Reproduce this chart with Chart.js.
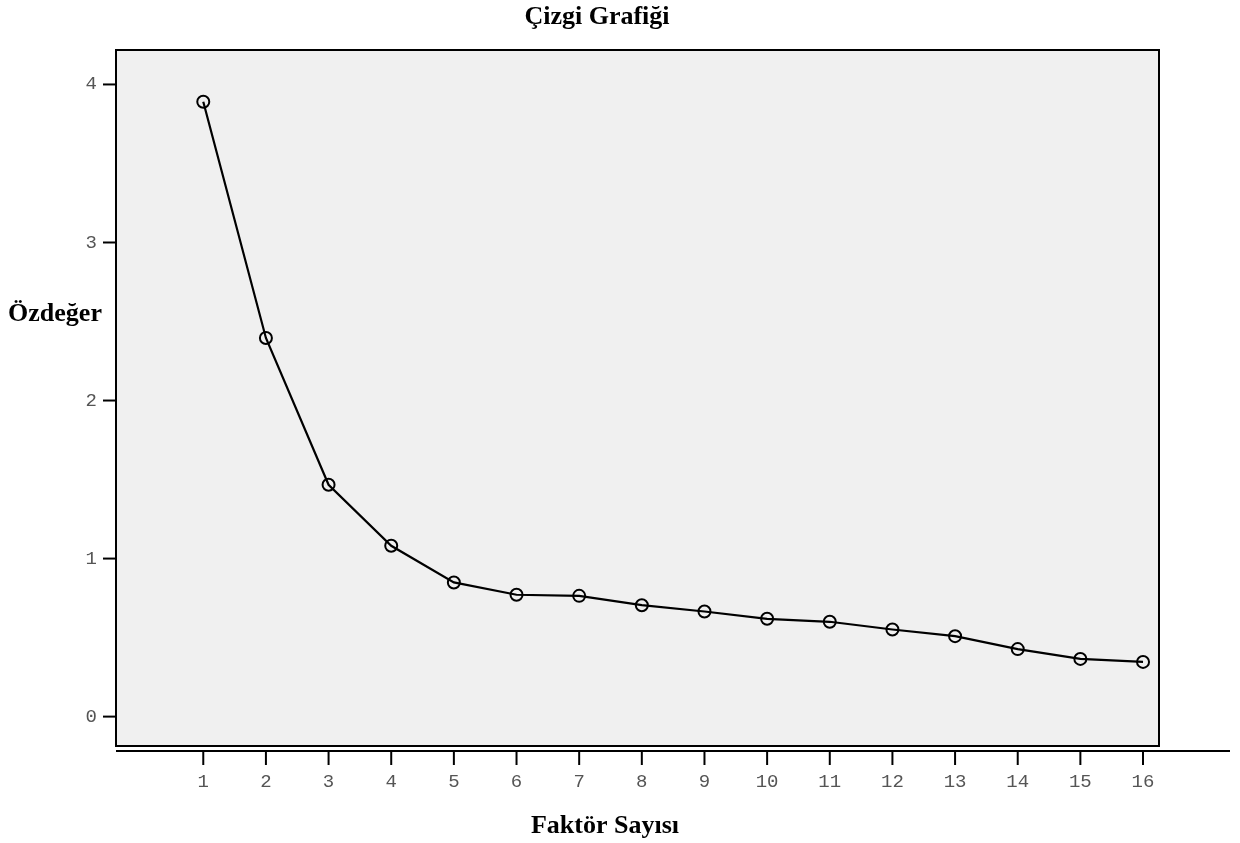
<!DOCTYPE html>
<html>
<head>
<meta charset="utf-8">
<script src="https://cdn.jsdelivr.net/npm/chart.js@4"></script>
<style>
  html, body { margin: 0; padding: 0; background: #fff; }
  #wrap { width: 1240px; height: 843px; }
</style>
</head>
<body>
<div id="wrap"><canvas id="scree" width="1240" height="843"></canvas></div>
<script>
// data
var factors = [1, 2, 3, 4, 5, 6, 7, 8, 9, 10, 11, 12, 13, 14, 15, 16];
var eigenvalues = [3.891, 2.396, 1.467, 1.081, 0.849, 0.771, 0.764, 0.705, 0.665, 0.619, 0.600, 0.551, 0.509, 0.427, 0.365, 0.346];
var yTicks = [0, 1, 2, 3, 4];
var chartTitle = 'Çizgi Grafiği';
var xTitle = 'Faktör Sayısı';
var yTitle = 'Özdeğer';

var points = factors.map(function(f, i) { return { x: f, y: eigenvalues[i] }; });

// gray box, border, tick marks and titles
var frame = {
    id: 'frame',
    beforeDraw: function(chart) {
        var a = chart.chartArea, c = chart.ctx;
        c.save();
        c.fillStyle = '#f0f0f0';
        c.fillRect(a.left, a.top, a.right - a.left, a.bottom - a.top);
        c.restore();
    },
    afterDraw: function(chart) {
        var a = chart.chartArea, c = chart.ctx;
        var xs = chart.scales.x, ys = chart.scales.y;
        c.save();
        c.strokeStyle = '#000';
        c.lineWidth = 2;
        c.strokeRect(a.left, a.top, a.right - a.left, a.bottom - a.top);

        // long base line under the box
        c.beginPath();
        c.moveTo(a.left, a.bottom + 5);
        c.lineTo(1230, a.bottom + 5);
        c.stroke();

        xs.ticks.forEach(function(t) {
            var px = xs.getPixelForValue(t.value);
            c.beginPath();
            c.moveTo(px, a.bottom + 5);
            c.lineTo(px, a.bottom + 19);
            c.stroke();
        });
        ys.ticks.forEach(function(t) {
            var py = ys.getPixelForValue(t.value);
            c.beginPath();
            c.moveTo(a.left, py);
            c.lineTo(a.left - 13, py);
            c.stroke();
        });

        c.fillStyle = '#000';
        c.textAlign = 'center';
        c.textBaseline = 'middle';
        c.font = 'bold 26px "Liberation Serif"';
        c.fillText(chartTitle, 597, 17);
        c.fillText(xTitle, 605, 826);
        c.fillText(yTitle, 55, 314);
        c.restore();
    }
};

new Chart(document.getElementById('scree').getContext('2d'), {
    type: 'line',
    data: {
        datasets: [{
            label: yTitle,
            data: points,
            borderColor: '#000',
            borderWidth: 2.2,
            backgroundColor: 'transparent',
            pointRadius: 6,
            pointBorderWidth: 2,
            pointBorderColor: '#000',
            pointBackgroundColor: 'transparent',
            tension: 0
        }]
    },
    plugins: [frame],
    options: {
        responsive: false,
        animation: false,
        events: [],
        layout: { padding: { top: 50, right: 81, bottom: 0, left: 0 } },
        plugins: {
            legend: { display: false },
            tooltip: { enabled: false },
            title: { display: false }
        },
        scales: {
            x: {
                type: 'linear',
                min: -0.393,
                max: 16.255,
                afterFit: function(s) { s.height = 97; },
                afterBuildTicks: function(s) { s.ticks = factors.map(function(v) { return { value: v }; }); },
                grid: { display: false, drawTicks: false },
                border: { display: false },
                ticks: {
                    padding: 25,
                    maxRotation: 0,
                    autoSkip: false,
                    color: '#555',
                    font: { family: '"Liberation Mono"', size: 19 }
                }
            },
            y: {
                min: -0.186,
                max: 4.218,
                afterFit: function(s) { s.width = 116; },
                afterBuildTicks: function(s) { s.ticks = yTicks.map(function(v) { return { value: v }; }); },
                grid: { display: false, drawTicks: false },
                border: { display: false },
                ticks: {
                    padding: 19,
                    color: '#555',
                    font: { family: '"Liberation Mono"', size: 19 }
                }
            }
        }
    }
});
</script>
</body>
</html>
